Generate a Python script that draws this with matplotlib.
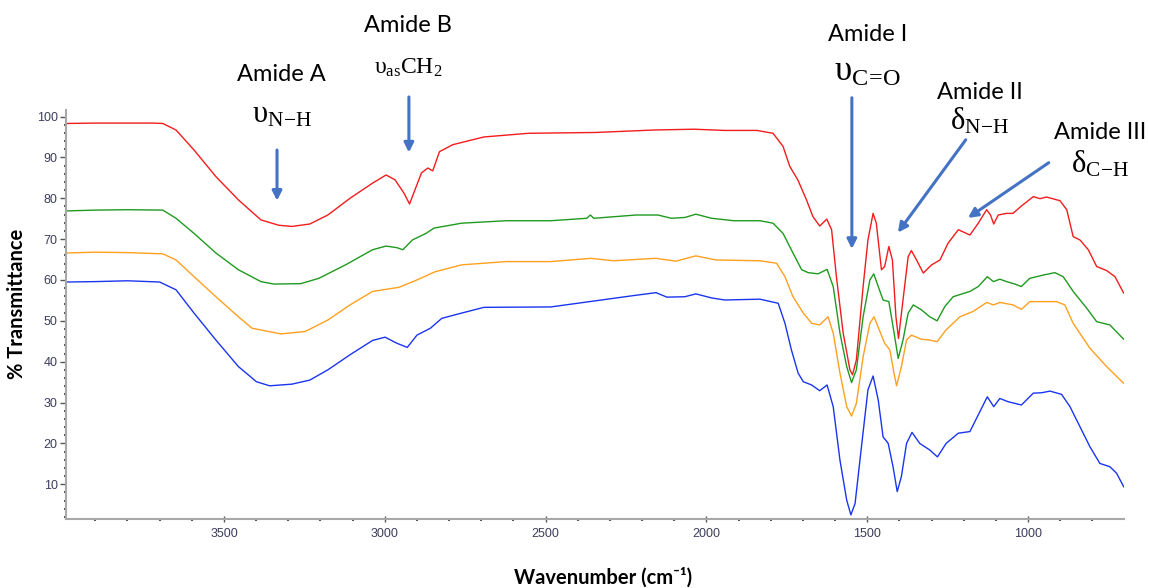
import matplotlib
matplotlib.use("Agg")
import matplotlib.pyplot as plt
from matplotlib.ticker import MultipleLocator

# espectros FTIR (numero de onda cm-1, % transmitancia)
red_wn = [3990, 3900, 3800, 3720, 3690, 3649, 3593, 3525, 3455, 3385, 3330, 3289, 3233, 3177, 3108,
          3038, 2996, 2968, 2940, 2923, 2906, 2886, 2866, 2851, 2830, 2789, 2692, 2553, 2345, 2164,
          2039, 1943, 1843, 1793, 1762, 1741, 1716, 1689, 1669, 1648, 1626, 1611, 1596, 1575, 1554,
          1546, 1534, 1513, 1498, 1482, 1472, 1456, 1446, 1433, 1422, 1411, 1403, 1389, 1373, 1363,
          1347, 1326, 1300, 1274, 1249, 1217, 1181, 1155, 1129, 1117, 1107, 1093, 1067, 1047, 1021,
          984, 963, 943, 901, 880, 860, 839, 813, 787, 756, 730, 703]
red_t = [98.3, 98.4, 98.4, 98.4, 98.3, 96.7, 91.8, 85.3, 79.6, 74.7, 73.4, 73.1, 73.7, 75.9, 80.0,
         83.7, 85.7, 84.5, 81.2, 78.6, 82.1, 86.2, 87.4, 86.7, 91.4, 93.1, 95.0, 95.9, 96.1, 96.7,
         96.9, 96.6, 96.6, 95.9, 92.7, 87.8, 84.5, 79.6, 75.5, 73.2, 74.9, 72.3, 60.8, 47.0, 38.0,
         36.8, 40.4, 58.4, 69.8, 76.3, 73.9, 62.5, 63.3, 68.2, 64.9, 51.0, 45.7, 55.1, 65.7, 67.2,
         64.9, 61.7, 63.7, 64.9, 69.0, 72.3, 71.0, 73.9, 77.2, 75.9, 73.7, 75.9, 76.3, 76.3, 78.1,
         80.4, 79.9, 80.3, 79.4, 77.2, 70.6, 69.8, 67.4, 63.3, 62.3, 60.8, 56.8]

green_wn = [3990, 3900, 3800, 3690, 3649, 3593, 3525, 3455, 3385, 3345, 3261, 3205, 3122, 3038,
            2996, 2962, 2944, 2914, 2872, 2847, 2761, 2623, 2484, 2372, 2361, 2350, 2219, 2151,
            2109, 2067, 2033, 1984, 1915, 1834, 1793, 1762, 1731, 1704, 1684, 1653, 1625, 1606,
            1585, 1564, 1549, 1534, 1513, 1492, 1480, 1466, 1451, 1433, 1420, 1404, 1389, 1373,
            1357, 1332, 1306, 1283, 1259, 1233, 1181, 1155, 1127, 1108, 1088, 1067, 1041, 1021,
            995, 953, 917, 891, 860, 818, 787, 746, 703]
green_t = [76.9, 77.1, 77.2, 77.1, 75.1, 71.4, 66.6, 62.5, 59.6, 59.0, 59.1, 60.4, 63.7, 67.4,
           68.3, 67.9, 67.4, 69.8, 71.4, 72.7, 73.9, 74.5, 74.5, 75.1, 75.9, 75.1, 75.9, 75.9,
           75.1, 75.3, 76.1, 75.1, 74.5, 74.5, 73.9, 71.4, 66.6, 62.5, 61.8, 61.5, 62.6, 58.4,
           47.0, 38.8, 34.9, 38.0, 51.0, 60.0, 61.5, 58.4, 55.1, 54.7, 48.6, 40.8, 45.3, 51.9,
           53.9, 52.7, 51.0, 50.0, 53.5, 55.9, 57.2, 58.4, 60.8, 59.6, 60.2, 59.6, 59.0, 58.4,
           60.4, 61.2, 61.8, 60.8, 57.2, 53.1, 49.8, 49.0, 45.5]

orange_wn = [3990, 3900, 3800, 3690, 3649, 3593, 3525, 3455, 3413, 3323, 3247, 3177, 3108, 3038,
             2956, 2900, 2844, 2761, 2623, 2484, 2359, 2289, 2157, 2095, 2033, 1971, 1834, 1782,
             1756, 1731, 1699, 1673, 1648, 1622, 1606, 1585, 1564, 1549, 1534, 1513, 1492, 1479,
             1463, 1446, 1430, 1417, 1409, 1394, 1378, 1363, 1332, 1306, 1283, 1255, 1212, 1171,
             1129, 1108, 1088, 1047, 1021, 995, 912, 886, 860, 808, 756, 703]
orange_t = [66.6, 66.8, 66.7, 66.4, 64.9, 60.8, 55.9, 51.0, 48.2, 46.8, 47.4, 50.2, 53.9, 57.2,
            58.2, 60.0, 62.0, 63.7, 64.5, 64.5, 65.3, 64.7, 65.3, 64.6, 65.9, 64.9, 64.7, 64.1,
            60.8, 55.9, 51.9, 49.4, 49.0, 51.0, 47.0, 37.2, 29.0, 26.7, 29.8, 41.2, 49.4, 51.0,
            47.8, 44.5, 42.9, 37.2, 34.1, 38.8, 45.3, 46.5, 45.5, 45.3, 44.9, 47.8, 51.0, 52.3,
            54.5, 53.9, 54.5, 53.9, 52.8, 54.7, 54.7, 53.9, 49.4, 43.3, 38.8, 34.7]

blue_wn = [3990, 3900, 3800, 3700, 3649, 3593, 3525, 3455, 3399, 3358, 3289, 3233, 3177, 3108,
           3038, 2999, 2962, 2930, 2900, 2858, 2823, 2761, 2692, 2484, 2345, 2234, 2157, 2123,
           2067, 2033, 1984, 1943, 1834, 1777, 1756, 1736, 1715, 1699, 1673, 1648, 1625, 1606,
           1585, 1564, 1551, 1538, 1517, 1498, 1482, 1466, 1451, 1435, 1420, 1407, 1394, 1378,
           1361, 1337, 1306, 1282, 1255, 1217, 1181, 1155, 1127, 1107, 1088, 1062, 1021, 984,
           958, 932, 896, 870, 839, 808, 777, 746, 725, 703]
blue_t = [59.5, 59.6, 59.8, 59.5, 57.6, 51.9, 45.3, 38.8, 35.1, 34.1, 34.5, 35.5, 38.0, 41.7,
          45.2, 46.0, 44.5, 43.5, 46.5, 48.2, 50.6, 51.9, 53.3, 53.4, 54.9, 56.1, 56.9, 55.8,
          55.9, 56.6, 55.6, 55.1, 55.3, 54.3, 49.4, 42.9, 37.2, 35.1, 34.3, 32.9, 34.3, 29.0,
          15.9, 6.1, 2.5, 5.3, 20.0, 33.1, 36.5, 30.6, 21.6, 20.0, 14.3, 8.2, 11.9, 20.0,
          22.7, 20.0, 18.4, 16.7, 20.0, 22.5, 22.9, 27.0, 31.4, 29.0, 31.0, 30.2, 29.4, 32.3,
          32.4, 32.8, 32.0, 29.0, 24.1, 19.2, 15.1, 14.3, 12.7, 9.4]

# anotaciones: texto, etiqueta, posicion del texto, cola y punta de la flecha
notes = [
    ("Amide A", r"$\upsilon_{\mathrm{N\!-\!H}}$", 3320, 110.2, 100.6, (3335, 91.8), (3335, 79.4), 22),
    ("Amide B", r"$\upsilon_{\mathrm{as}}\mathrm{CH_2}$", 2928, 122.4, 112.2, (2925, 104.8), (2925, 91.2), 17),
    ("Amide I", r"$\upsilon_{\mathrm{C\!=\!O}}$", 1500, 120.0, 111.2, (1548, 104.6), (1548, 67.6), 25),
    ("Amide II", r"$\delta_{\mathrm{N\!-\!H}}$", 1150, 106.0, 99.0, (1194, 94.3), (1405, 71.6), 22),
    ("Amide III", r"$\delta_{\mathrm{C\!-\!H}}$", 777, 96.0, 88.4, (936, 88.7), (1187, 75.2), 22),
]

plt.rcParams['mathtext.fontset'] = 'custom'
plt.rcParams['mathtext.rm'] = 'Liberation Serif'
plt.rcParams['mathtext.it'] = 'Liberation Serif'
plt.rcParams['mathtext.bf'] = 'Liberation Serif:bold'

fig = plt.figure(figsize=(11.49, 5.88), dpi=100)
ax = fig.add_axes([66/1149, 1-519/588, (1124-66)/1149, (519-110)/588])

ax.plot(red_wn, red_t, color='#f21c1c', lw=1.0)
ax.plot(green_wn, green_t, color='#1f9a1f', lw=1.0)
ax.plot(orange_wn, orange_t, color='#ffa01e', lw=1.0)
ax.plot(blue_wn, blue_t, color='#1a35f0', lw=1.0)

ax.set_xlim(3991, 702)
ax.set_ylim(1.5, 101.6)

# ejes al estilo del software del espectrometro
for s in ['top', 'right']:
    ax.spines[s].set_visible(False)
for s in ['left', 'bottom']:
    ax.spines[s].set_color('#a8a8a8')
    ax.spines[s].set_linewidth(1.5)
ax.set_xticks([3500, 3000, 2500, 2000, 1500, 1000])
ax.xaxis.set_minor_locator(MultipleLocator(100))
ax.set_yticks(range(10, 101, 10))
ax.yaxis.set_minor_locator(MultipleLocator(2))
ax.tick_params(which='major', length=4, width=1, color='#555555', labelcolor='#3c3c5c',
               labelsize=9, pad=2)
ax.tick_params(axis='x', which='major', direction='inout', length=5, pad=4)
ax.tick_params(which='minor', length=1.5, width=1.5, color='#555555')
for lab in ax.get_xticklabels() + ax.get_yticklabels():
    lab.set_family('Liberation Sans')

fig.text(603/1149, 1-578/588, "Wavenumber (cm\u207b\u00b9)", ha='center', va='center',
         fontsize=14.5, fontweight='bold', family=['Lato', 'DejaVu Sans'])
fig.text(17.5/1149, 1-304/588, "% Transmittance", ha='center', va='center', rotation=90,
         fontsize=14.5, fontweight='bold', family=['Lato', 'DejaVu Sans'])

for name, sym, xt, y1, y2, tail, tip, fs in notes:
    ax.text(xt, y1, name, ha='center', va='center', fontsize=17, family='Lato', clip_on=False)
    ax.text(xt, y2, sym, ha='center', va='center', fontsize=fs, clip_on=False)
    ax.annotate("", xy=tip, xytext=tail, annotation_clip=False,
                arrowprops=dict(arrowstyle='-|>', color='#4472c4', lw=2.2,
                                mutation_scale=14, shrinkA=0, shrinkB=0))

fig.savefig("out.png", dpi=100)
